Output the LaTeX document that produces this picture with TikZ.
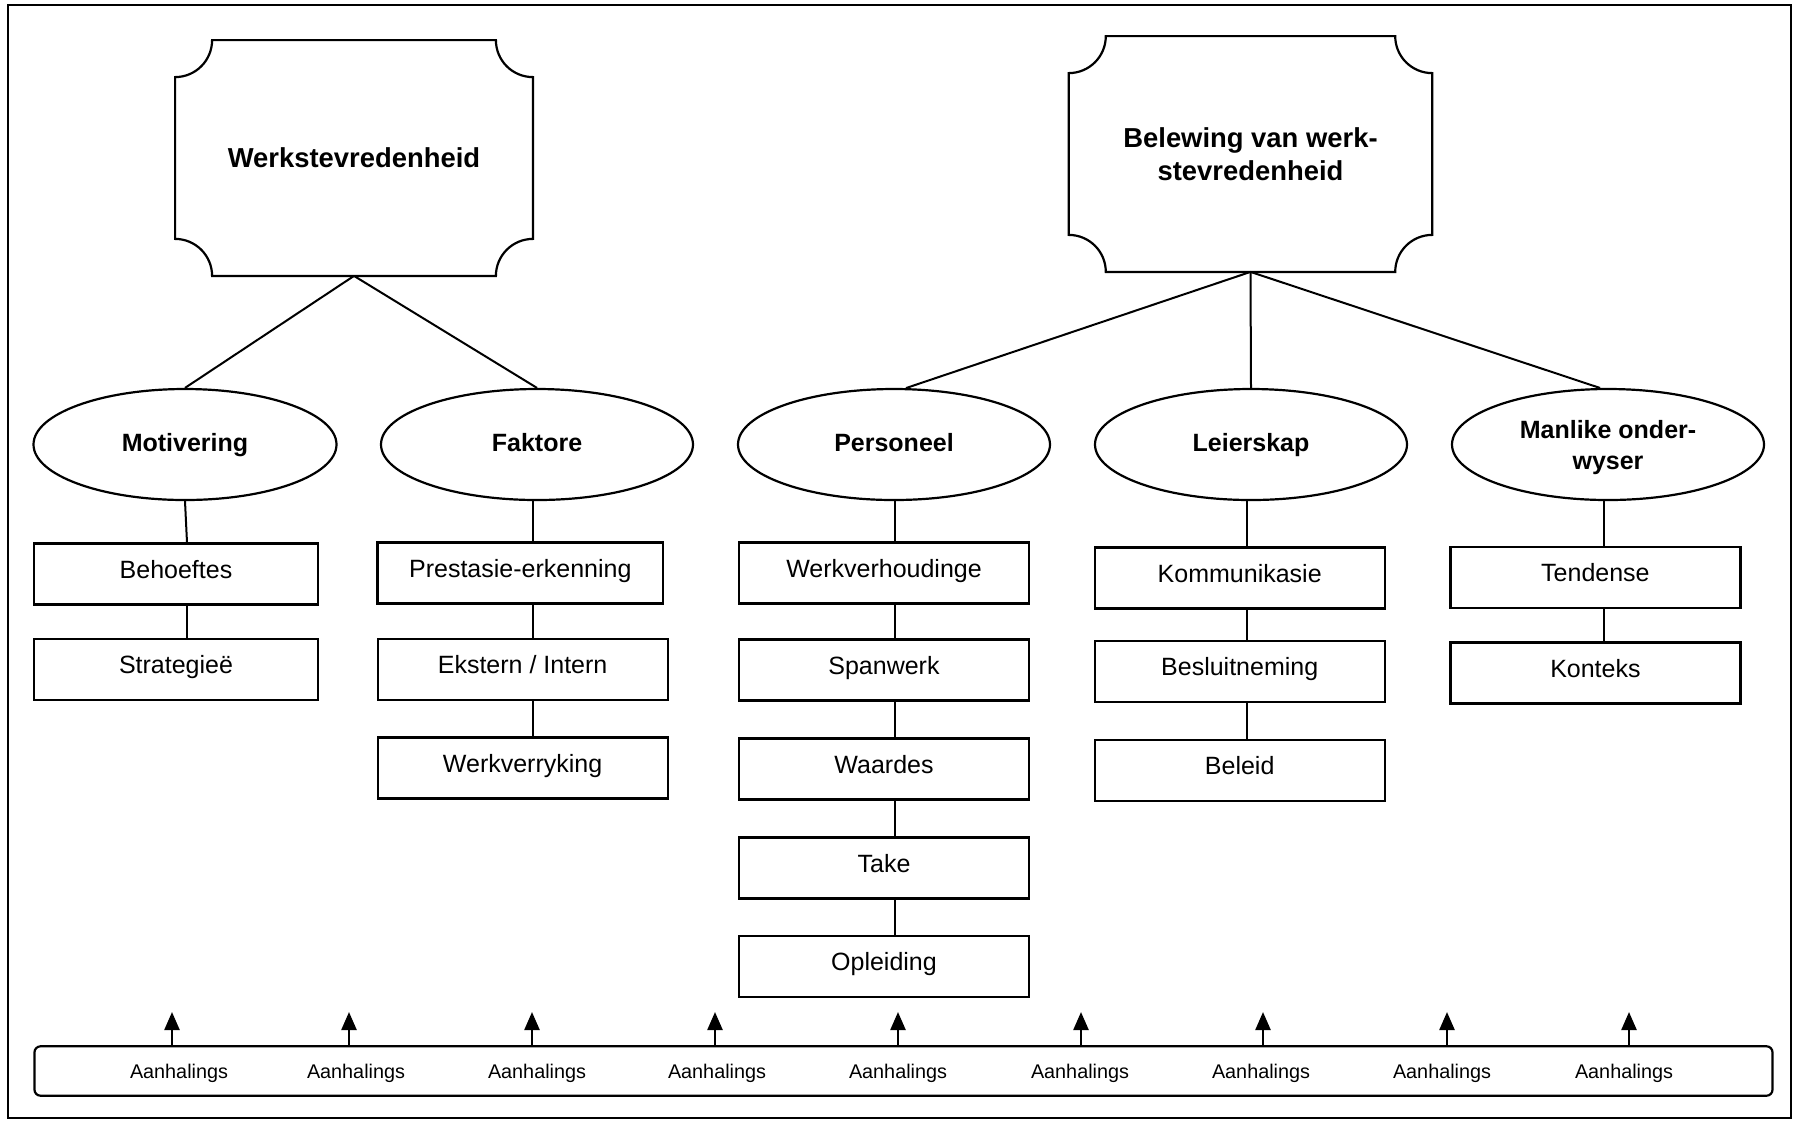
\documentclass[tikz,border=0pt]{standalone}
\usepackage{fontspec}
\setmainfont{Liberation Sans}
\usetikzlibrary{shapes.geometric,arrows.meta}
\begin{document}
\begin{tikzpicture}[x=0.5pt,y=-0.5pt,
  framebox/.style={draw,line width=1.2pt},
  titlebox/.style={rectangle,inner sep=0pt,minimum width=178.5pt,minimum height=117.5pt,align=center,font=\fontsize{13.7}{16.6}\selectfont\bfseries},
  notch/.style={draw,line width=1.1pt},
  oval/.style={ellipse,draw,line width=1.1pt,inner sep=0pt,minimum width=156pt,minimum height=55.5pt,align=center,text height=0.72em,text depth=0pt,font=\fontsize{12.5}{15.5}\selectfont\bfseries},
  item/.style={rectangle,draw,line width=1.1pt,inner sep=0pt,minimum width=145pt,minimum height=30.5pt,text height=0.72em,text depth=0.3em,font=\fontsize{12.5}{14}\selectfont},
  link/.style={line width=1pt},
  quote/.style={font=\fontsize{9.9}{12}\selectfont,inner sep=0pt,text height=0.72em,text depth=0pt},
  bar/.style={draw,line width=1.1pt,rounded corners=3pt,minimum width=869pt,minimum height=24.7pt,inner sep=0pt},
  uparrow/.style={line width=1.2pt,-{Triangle[width=7.5pt,length=9pt]}}
]
\useasboundingbox (0,0) rectangle (1799,1121);
\draw[framebox] (8,5) rectangle (1791,1118);

% title boxes
\def\nr{18.5pt}
\node[titlebox] (w) at (354,158) {Werkstevredenheid};
\node[titlebox,minimum width=181.3pt] (b) at (1250.5,154) {Belewing van werk-\\stevredenheid};
\foreach \n in {w,b}{
  \draw[notch] ([xshift=\nr]\n.north west) -- ([xshift=-\nr]\n.north east)
    arc[start angle=180,end angle=270,radius=\nr]
    -- ([yshift=\nr]\n.south east)
    arc[start angle=90,end angle=180,radius=\nr]
    -- ([xshift=\nr]\n.south west)
    arc[start angle=0,end angle=90,radius=\nr]
    -- ([yshift=-\nr]\n.north west)
    arc[start angle=270,end angle=360,radius=\nr] -- cycle;
}

% ellipses
\node[oval,minimum width=151.5pt] (mot) at (185,444.5) {Motivering};
\node[oval] (fak) at (537,444.5) {Faktore};
\node[oval] (per) at (894,444.5) {Personeel};
\node[oval] (lei) at (1251,444.5) {Leierskap};
\node[oval,text height=24.5pt] (man) at (1608,444.5) {Manlike onder-\\wyser};

\draw[link] (w.south) -- (mot.north);
\draw[link] (w.south) -- (fak.north);
\draw[link] (b.south) -- (per.78);
\draw[link] (b.south) -- (lei.north);
\draw[link] (b.south) -- (man.98);

% items
\node[item,minimum width=141.7pt] (beh) at (176,574) {Behoeftes};
\node[item,minimum width=141.7pt] (str) at (176,669.5) {Strategieë};

\node[item,minimum width=142.8pt] (pre) at (520.3,573) {Prestasie-erkenning};
\node[item] (eks) at (522.6,669.5) {Ekstern / Intern};
\node[item] (wvr) at (522.6,768) {Werkverryking};

\node[item] (wvh) at (884,573) {Werkverhoudinge};
\node[item] (spa) at (884,670) {Spanwerk};
\node[item] (waa) at (884,769) {Waardes};
\node[item] (tak) at (884,868) {Take};
\node[item] (opl) at (884,966.6) {Opleiding};

\node[item] (kom) at (1239.7,578) {Kommunikasie};
\node[item] (bes) at (1239.7,671.7) {Besluitneming};
\node[item] (bel) at (1239.7,770.4) {Beleid};

\node[item] (ten) at (1595.4,577.7) {Tendense};
\node[item] (kon) at (1595.4,672.9) {Konteks};

% vertical connectors
\coordinate (c1) at (187,0);
\coordinate (c2) at (532.5,0);
\coordinate (c3) at (895,0);
\coordinate (c4) at (1247,0);
\coordinate (c5) at (1604,0);
\draw[link] (mot.south) -- (c1 |- beh.north);
\draw[link] (c1 |- beh.south) -- (c1 |- str.north);
\draw[link] (c2 |- fak.south) -- (c2 |- pre.north);
\draw[link] (c2 |- pre.south) -- (c2 |- eks.north);
\draw[link] (c2 |- eks.south) -- (c2 |- wvr.north);
\draw[link] (c3 |- per.south) -- (c3 |- wvh.north);
\draw[link] (c3 |- wvh.south) -- (c3 |- spa.north);
\draw[link] (c3 |- spa.south) -- (c3 |- waa.north);
\draw[link] (c3 |- waa.south) -- (c3 |- tak.north);
\draw[link] (c3 |- tak.south) -- (c3 |- opl.north);
\draw[link] (c4 |- lei.south) -- (c4 |- kom.north);
\draw[link] (c4 |- kom.south) -- (c4 |- bes.north);
\draw[link] (c4 |- bes.south) -- (c4 |- bel.north);
\draw[link] (c5 |- man.south) -- (c5 |- ten.north);
\draw[link] (c5 |- ten.south) -- (c5 |- kon.north);

% bottom bar
\node[bar] (q) at (903.5,1071) {};
\foreach \ax/\lx [count=\i] in {172/179,349/356,532/537,715/717,898/898,1081/1080,1263/1261,1447/1442,1629/1624}{
  \coordinate (t\i) at (\ax,1012);
  \draw[uparrow] (q.north -| t\i) -- (t\i);
  \node[quote] (a\i) at (\lx,1071) {Aanhalings};
}
\end{tikzpicture}
\end{document}
